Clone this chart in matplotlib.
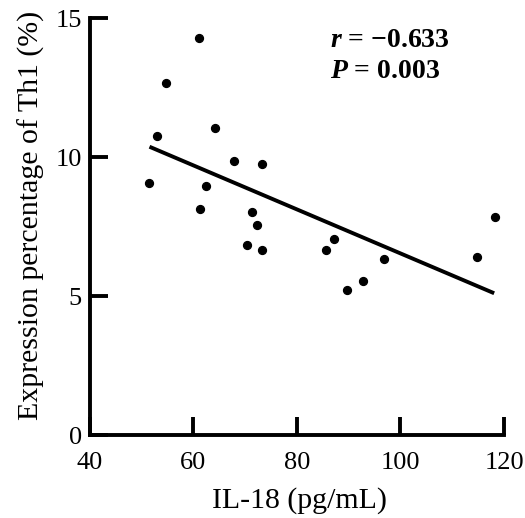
import numpy as np
import matplotlib
matplotlib.use('AGG')
from matplotlib import pyplot as plt

# IL-18 vs Th1 percentage
il18 = [61.1, 54.7, 52.9, 64.2, 67.8, 73.2, 51.5, 62.4, 61.3, 71.4,
        72.3, 70.3, 73.3, 87.2, 85.7, 96.8, 92.7, 89.7, 118.3, 114.7]
th1 = [14.28, 12.67, 10.77, 11.06, 9.84, 9.76, 9.06, 8.95, 8.14, 8.04,
       7.54, 6.84, 6.64, 7.04, 6.64, 6.34, 5.53, 5.22, 7.84, 6.42]

# fitted line ends
fit_x = [51.5, 118.1]
fit_y = [10.37, 5.10]

xticks = [40, 60, 80, 100, 120]
yticks = [0, 5, 10, 15]

plt.rcParams['font.family'] = ['Liberation Serif', 'DejaVu Serif']
plt.rcParams['mathtext.fontset'] = 'custom'
plt.rcParams['mathtext.it'] = 'Liberation Serif:italic:bold'
plt.rcParams['mathtext.rm'] = 'Liberation Serif:bold'

fig = plt.figure(figsize=(5.25, 5.18), dpi=100)
ax = fig.add_axes([0.1714, 0.1602, 0.7886, 0.805])

ax.scatter(il18, th1, s=32, color='black', zorder=3)
ax.plot(fit_x, fit_y, color='black', lw=2.8, solid_capstyle='butt')

ax.set_xlim(40, 120)
ax.set_ylim(0, 15)
ax.set_xticks(xticks)
ax.set_yticks(yticks)
for sp in ['top', 'right']:
    ax.spines[sp].set_visible(False)
for sp in ['left', 'bottom']:
    ax.spines[sp].set_linewidth(2.8)
ax.tick_params(direction='in', length=13, width=2.8, labelsize=19)
ax.tick_params(axis='x', pad=12)
ax.tick_params(axis='y', pad=6)

ax.set_xlabel('IL-18 (pg/mL)', fontsize=21.5)
ax.set_ylabel('Expression percentage of Th1 (%)', fontsize=21.5)
ax.xaxis.set_label_coords(0.505, -0.125)
ax.yaxis.set_label_coords(-0.109, 0.526)

ax.text(0.58, 0.93, r'$r$ = $-$0.633', transform=ax.transAxes, fontsize=20, fontweight='bold')
ax.text(0.58, 0.855, r'$P$ = 0.003', transform=ax.transAxes, fontsize=20, fontweight='bold')

plt.savefig('out.png', dpi=100)
